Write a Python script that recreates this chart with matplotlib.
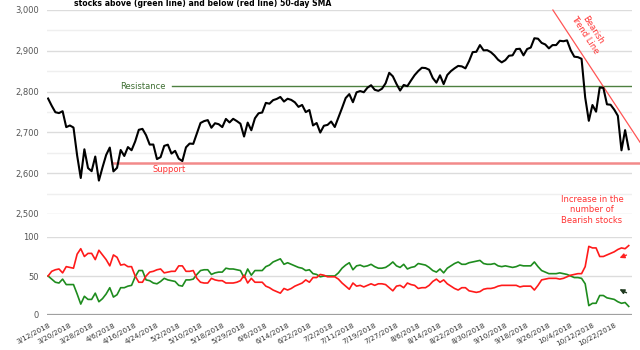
import matplotlib
matplotlib.use("Agg")
import matplotlib.pyplot as plt
import pandas as pd

# S&P 500 daily closes, 3/12/2018 .. 10/26/2018 (trading days)
spx = [
    2783.02, 2765.31, 2749.48, 2747.33, 2752.01, 2712.92, 2716.94, 2711.93, 2643.69, 2588.26,
    2658.55, 2612.62, 2605.00, 2640.87, 2581.88, 2614.45, 2644.69, 2662.84, 2604.47, 2613.16,
    2656.87, 2642.19, 2663.99, 2656.30, 2677.84, 2706.39, 2708.64, 2693.13, 2670.14, 2670.29,
    2634.56, 2639.40, 2666.94, 2669.91, 2648.05, 2654.80, 2635.67, 2629.73, 2663.42, 2672.63,
    2671.92, 2697.79, 2723.07, 2727.72, 2730.13, 2711.45, 2722.46, 2720.13, 2712.97, 2733.01,
    2724.44, 2733.29, 2727.76, 2721.33, 2689.86, 2724.01, 2705.27, 2734.62, 2746.87, 2748.80,
    2772.35, 2770.37, 2779.03, 2782.00, 2786.85, 2775.63, 2782.49, 2779.66, 2773.75, 2762.59,
    2767.32, 2749.76, 2754.88, 2717.07, 2723.06, 2699.63, 2716.31, 2718.37, 2726.71, 2713.22,
    2736.61, 2759.82, 2784.17, 2793.84, 2774.02, 2798.29, 2801.31, 2798.43, 2809.55, 2815.62,
    2804.49, 2801.83, 2806.98, 2820.40, 2846.07, 2837.44, 2818.82, 2802.60, 2816.29, 2813.36,
    2827.22, 2840.35, 2850.40, 2858.45, 2857.70, 2853.58, 2833.28, 2821.93, 2839.96, 2818.37,
    2840.69, 2850.13, 2857.05, 2862.96, 2861.82, 2856.98, 2874.69, 2896.74, 2897.52, 2914.04,
    2901.13, 2901.52, 2896.72, 2888.60, 2878.05, 2871.68, 2877.13, 2887.89, 2888.92, 2904.18,
    2904.98, 2888.80, 2904.31, 2907.95, 2930.75, 2929.67, 2919.37, 2915.56, 2905.97, 2914.00,
    2913.98, 2924.59, 2923.43, 2925.51, 2901.61, 2885.57, 2884.43, 2880.34, 2785.68, 2728.37,
    2767.13, 2750.79, 2809.92, 2809.21, 2768.78, 2767.78, 2755.88, 2740.69, 2656.10, 2705.57,
    2658.69,
]

# % of stocks above (green) / below (red) their 50-day SMA
above = [
    50, 46, 42, 41, 46, 39, 39, 39, 27, 14, 24, 20, 20, 28, 17, 21, 27, 35, 23, 26,
    35, 35, 37, 38, 49, 57, 57, 45, 44, 41, 40, 43, 47, 45, 44, 43, 38, 37, 45, 45,
    46, 52, 57, 58, 58, 52, 54, 55, 55, 60, 59, 59, 58, 57, 48, 59, 51, 57, 57, 57,
    62, 64, 68, 70, 72, 65, 67, 65, 63, 61, 60, 57, 58, 53, 52, 49, 50, 50, 50, 50,
    54, 60, 64, 67, 58, 63, 64, 62, 63, 65, 62, 60, 60, 61, 64, 68, 63, 61, 65, 59,
    61, 62, 66, 65, 64, 61, 57, 55, 59, 54, 60, 63, 66, 68, 65, 65, 67, 68, 69, 70,
    66, 65, 65, 66, 63, 62, 63, 62, 61, 62, 64, 63, 63, 63, 68, 62, 57, 55, 53, 53,
    53, 54, 53, 52, 50, 48, 48, 47, 40, 12, 15, 15, 25, 25, 22, 21, 20, 17, 15, 16,
    11,
]
below = [
    50, 56, 58, 59, 54, 62, 61, 60, 78, 85, 75, 79, 79, 71, 83, 77, 71, 63, 77, 74,
    64, 65, 62, 62, 50, 42, 42, 50, 55, 56, 58, 59, 54, 55, 56, 56, 63, 63, 56, 56,
    57, 47, 42, 41, 41, 47, 45, 44, 44, 41, 41, 41, 42, 44, 51, 41, 47, 42, 42, 42,
    37, 35, 32, 30, 28, 34, 32, 34, 37, 39, 41, 45, 42, 48, 48, 52, 51, 49, 49, 49,
    46, 41, 37, 33, 41, 37, 38, 36, 38, 40, 38, 40, 40, 39, 35, 31, 37, 38, 35, 41,
    39, 38, 34, 35, 35, 38, 43, 46, 42, 45, 40, 37, 34, 32, 35, 35, 31, 30, 29, 30,
    33, 34, 34, 35, 37, 38, 38, 38, 38, 38, 36, 37, 37, 37, 32, 38, 45, 46, 47, 47,
    47, 46, 47, 49, 51, 52, 53, 53, 62, 88, 86, 86, 75, 75, 77, 79, 81, 84, 86, 85,
    89,
]

resistance = 2813
support = 2625
trend_pts = [(139.1, 3000), (163.1, 2676)]

holidays = ["2018-03-30", "2018-05-28", "2018-07-04", "2018-09-03"]
dates = pd.bdate_range("2018-03-12", periods=len(spx), freq="C", holidays=holidays)
tick_idx = list(range(0, len(dates), 6))
tick_labels = [f"{dates[i].month}/{dates[i].day}/{dates[i].year}" for i in tick_idx]

plt.rcParams["font.family"] = "DejaVu Sans"

W, H = 640, 350
fig = plt.figure(figsize=(6.4, 3.5), dpi=100)
ax1 = fig.add_axes([47 / W, 1 - 214 / H, 585 / W, 204 / H])
ax2 = fig.add_axes([47 / W, 1 - 315 / H, 585 / W, 78 / H])
x = list(range(len(spx)))
xlim = (-0.3, 160.9)

for ax in (ax1, ax2):
    for s in ax.spines.values():
        s.set_visible(False)
    ax.set_xlim(*xlim)
    ax.tick_params(axis="y", length=0, pad=6, labelsize=6, labelcolor="#555555")
    ax.set_axisbelow(True)

# top panel: index
ax1.set_ylim(2500, 3000)
ax1.set_yticks(range(2500, 3001, 100))
ax1.set_yticklabels([f"{v:,}" for v in range(2500, 3001, 100)])
for v in range(2550, 3000, 100):
    ax1.axhline(v, color="#efefef", lw=1, zorder=0)
ax1.grid(axis="y", color="#dcdcdc", lw=1)
ax1.set_xticks([])
ax1.plot(x, spx, color="black", lw=1.5, zorder=3)

ax1.plot([34.2, xlim[1]], [resistance, resistance], color="#4e8040", lw=1, zorder=2)
ax1.text(26, resistance, "Resistance", color="#3f6f33", fontsize=6, ha="center", va="center")
ax1.plot([17.6, 163.5], [support, support], color="#f28a8a", lw=1.8, zorder=2, clip_on=False)
ax1.text(33.3, 2610, "Support", color="#ff3333", fontsize=6, ha="center", va="center")
ax1.plot([p[0] for p in trend_pts], [p[1] for p in trend_pts], color="#ff5555", lw=0.9,
         zorder=2, clip_on=False)
ax1.text(149, 2944, "Bearish\nTrend Line", color="#ff3333", fontsize=6, ha="center",
         va="center", rotation=-57, linespacing=1.0)

# bottom panel: breadth
ax2.set_ylim(0, 100)
ax2.set_yticks([0, 50, 100])
ax2.grid(axis="y", color="#dcdcdc", lw=1)
ax2.axhline(0, color="#a0a0a0", lw=1.6, zorder=1)
ax2.plot(x, above, color="#1e8c1e", lw=1.2, zorder=3)
ax2.plot(x, below, color="#ff1a1a", lw=1.2, zorder=3)
ax2.set_xticks(tick_idx)
ax2.set_xticklabels(tick_labels, rotation=28, ha="right", rotation_mode="anchor")
ax2.tick_params(axis="x", length=0, pad=5, labelsize=5.2, labelcolor="#333333")

fig.text(592 / W, 1 - 210 / H, "Increase in the\nnumber of\nBearish stocks", color="#ff3333",
         fontsize=6, ha="center", va="center", linespacing=1.15)
fig.text(203 / W, 1 - 3 / H, "stocks above (green line) and below (red line) 50-day SMA",
         fontsize=5.6, fontweight="bold", ha="center", va="center")

ax2.annotate("", xy=(617 / W, 1 - 259 / H), xytext=(629 / W, 1 - 254 / H),
             xycoords="figure fraction", textcoords="figure fraction",
             arrowprops=dict(arrowstyle="-|>", color="#ff2020", lw=1, mutation_scale=7))
ax2.annotate("", xy=(617 / W, 1 - 288 / H), xytext=(629 / W, 1 - 294 / H),
             xycoords="figure fraction", textcoords="figure fraction",
             arrowprops=dict(arrowstyle="-|>", color="#1f3a1f", lw=1, mutation_scale=7))

fig.savefig("out.png", dpi=100)
